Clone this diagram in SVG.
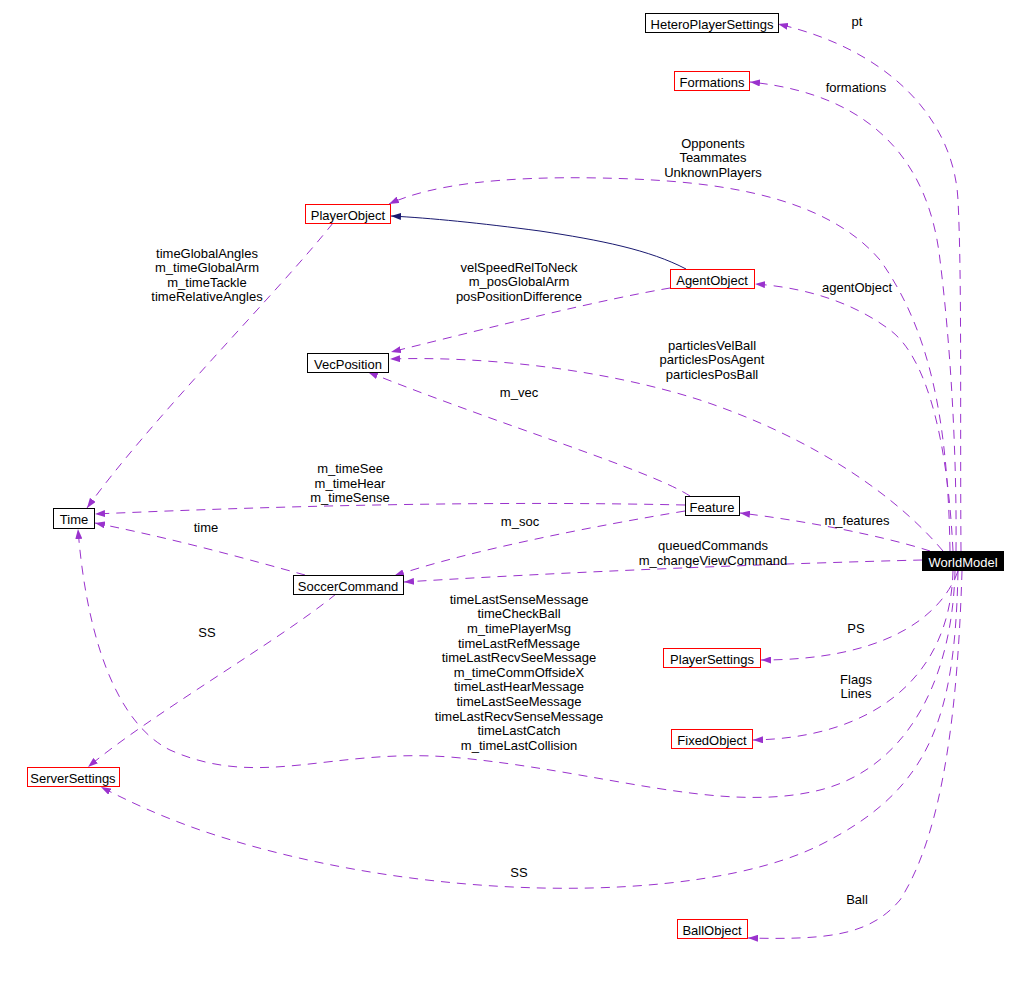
<svg xmlns="http://www.w3.org/2000/svg" width="1028" height="991" viewBox="0 0 1028 991">
<defs>
<style>
.nd{fill:#ffffff;stroke:#000000;stroke-width:1}
.rd{fill:#ffffff;stroke:#ff0000;stroke-width:1}
.wm{fill:#000000;stroke:#000000;stroke-width:1}
text{font-family:"Liberation Sans",Arial,sans-serif;font-size:13px;fill:#000000;text-anchor:middle}
.wt{fill:#ffffff}
.e{fill:none;stroke:#9a32cd;stroke-width:1;stroke-dasharray:9,7;marker-end:url(#ap)}
.s{fill:none;stroke:#191970;stroke-width:1;marker-end:url(#ab)}
</style>
<marker id="ap" viewBox="0 0 10 7" refX="10" refY="3.5" markerWidth="10" markerHeight="7" markerUnits="userSpaceOnUse" orient="auto"><path d="M0,0 L10,3.5 L0,7 z" fill="#9a32cd" stroke="none"/></marker>
<marker id="ab" viewBox="0 0 10 7" refX="10" refY="3.5" markerWidth="10" markerHeight="7" markerUnits="userSpaceOnUse" orient="auto"><path d="M0,0 L10,3.5 L0,7 z" fill="#191970" stroke="none"/></marker>
</defs>
<rect width="1028" height="991" fill="#ffffff"/>
<g id="edges">
<path class="e" d="M961,551 C960,420 962,280 958,200 C954,120 890,50 778,24"/>
<path class="e" d="M956,551 C957,450 950,340 940,260 C930,170 880,95 750,82"/>
<path class="e" d="M950,551 C948,420 930,330 880,260 C820,190 700,180 600,178 C500,176 430,185 389,204"/>
<path class="e" d="M953,551 C948,450 930,360 890,330 C850,300 800,287 755,284"/>
<path class="e" d="M943,551 C900,500 820,440 700,400 C600,368 480,356 390,359"/>
<path class="e" d="M930,551 C880,535 800,520 740,513"/>
<path class="e" d="M922,560 C800,563 600,570 404,582"/>
<path class="e" d="M958,571 C940,620 880,660 761,660"/>
<path class="e" d="M953,571 C950,680 870,738 753,740"/>
<path class="e" d="M955,571 C952,690 900,770 820,790 C720,815 600,770 450,757 C330,748 260,790 170,750 C110,720 85,620 78,529"/>
<path class="e" d="M958,571 C955,720 930,790 820,845 C700,905 420,905 200,830 C160,816 130,802 101,787"/>
<path class="e" d="M962,571 C958,700 945,830 900,900 C870,935 830,940 748,938"/>
<path class="s" d="M686,269 C650,250 600,240 540,231 C480,223 430,218 391,216"/>
<path class="e" d="M670,288 C600,300 500,325 391,352"/>
<path class="e" d="M690,496 C650,470 500,425 368,372"/>
<path class="e" d="M685,505 C500,501 300,505 95,514"/>
<path class="e" d="M685,511 C600,525 470,550 394,576"/>
<path class="e" d="M305,575 C250,560 180,540 95,523"/>
<path class="e" d="M336,594 C280,640 150,715 88,767"/>
<path class="e" d="M333,223 C280,290 150,420 87,508"/>
</g>
<g id="labels">
<text x="857" y="26">pt</text>
<text x="856" y="92">formations</text>
<text x="713" y="148">Opponents</text>
<text x="713" y="162">Teammates</text>
<text x="713" y="177">UnknownPlayers</text>
<text x="857" y="292">agentObject</text>
<text x="207" y="258">timeGlobalAngles</text>
<text x="207" y="272">m_timeGlobalArm</text>
<text x="207" y="287">m_timeTackle</text>
<text x="207" y="301">timeRelativeAngles</text>
<text x="519" y="272">velSpeedRelToNeck</text>
<text x="519" y="286">m_posGlobalArm</text>
<text x="519" y="301">posPositionDifference</text>
<text x="712" y="350">particlesVelBall</text>
<text x="712" y="364">particlesPosAgent</text>
<text x="712" y="379">particlesPosBall</text>
<text x="519" y="397">m_vec</text>
<text x="350" y="473">m_timeSee</text>
<text x="350" y="488">m_timeHear</text>
<text x="350" y="502">m_timeSense</text>
<text x="857" y="525">m_features</text>
<text x="206" y="532">time</text>
<text x="520" y="526">m_soc</text>
<text x="713" y="550">queuedCommands</text>
<text x="713" y="565">m_changeViewCommand</text>
<text x="207" y="637">SS</text>
<text x="856" y="633">PS</text>
<text x="856" y="684">Flags</text>
<text x="856" y="698">Lines</text>
<text x="519" y="604">timeLastSenseMessage</text>
<text x="519" y="618">timeCheckBall</text>
<text x="519" y="633">m_timePlayerMsg</text>
<text x="519" y="648">timeLastRefMessage</text>
<text x="519" y="662">timeLastRecvSeeMessage</text>
<text x="519" y="677">m_timeCommOffsideX</text>
<text x="519" y="691">timeLastHearMessage</text>
<text x="519" y="706">timeLastSeeMessage</text>
<text x="519" y="721">timeLastRecvSenseMessage</text>
<text x="519" y="735">timeLastCatch</text>
<text x="519" y="750">m_timeLastCollision</text>
<text x="519" y="877">SS</text>
<text x="857" y="904">Ball</text>
</g>
<g id="HeteroPlayerSettings"><rect class="nd" x="645.5" y="13.5" width="133" height="19"/><text x="712" y="29">HeteroPlayerSettings</text></g>
<g id="Formations"><rect class="rd" x="674.5" y="71.5" width="75" height="19"/><text x="712" y="87">Formations</text></g>
<g id="PlayerObject"><rect class="rd" x="305.5" y="204.5" width="85" height="19"/><text x="348" y="220">PlayerObject</text></g>
<g id="AgentObject"><rect class="rd" x="670.5" y="269.5" width="84" height="19"/><text x="712" y="285">AgentObject</text></g>
<g id="VecPosition"><rect class="nd" x="307.5" y="353.5" width="81" height="19"/><text x="348" y="369">VecPosition</text></g>
<g id="Feature"><rect class="nd" x="685.5" y="496.5" width="54" height="19"/><text x="712" y="512">Feature</text></g>
<g id="Time"><rect class="nd" x="53.5" y="508.5" width="41" height="20"/><text x="74" y="524">Time</text></g>
<g id="SoccerCommand"><rect class="nd" x="293.5" y="575.5" width="110" height="19"/><text x="348" y="591">SoccerCommand</text></g>
<g id="WorldModel"><rect class="wm" x="922.5" y="551.5" width="81" height="19"/><text class="wt" x="963" y="567">WorldModel</text></g>
<g id="PlayerSettings"><rect class="rd" x="663.5" y="648.5" width="97" height="19"/><text x="712" y="664">PlayerSettings</text></g>
<g id="FixedObject"><rect class="rd" x="671.5" y="729.5" width="81" height="19"/><text x="712" y="745">FixedObject</text></g>
<g id="ServerSettings"><rect class="rd" x="27.5" y="767.5" width="92" height="19"/><text x="73" y="783">ServerSettings</text></g>
<g id="BallObject"><rect class="rd" x="677.5" y="919.5" width="70" height="19"/><text x="712" y="935">BallObject</text></g>
</svg>
